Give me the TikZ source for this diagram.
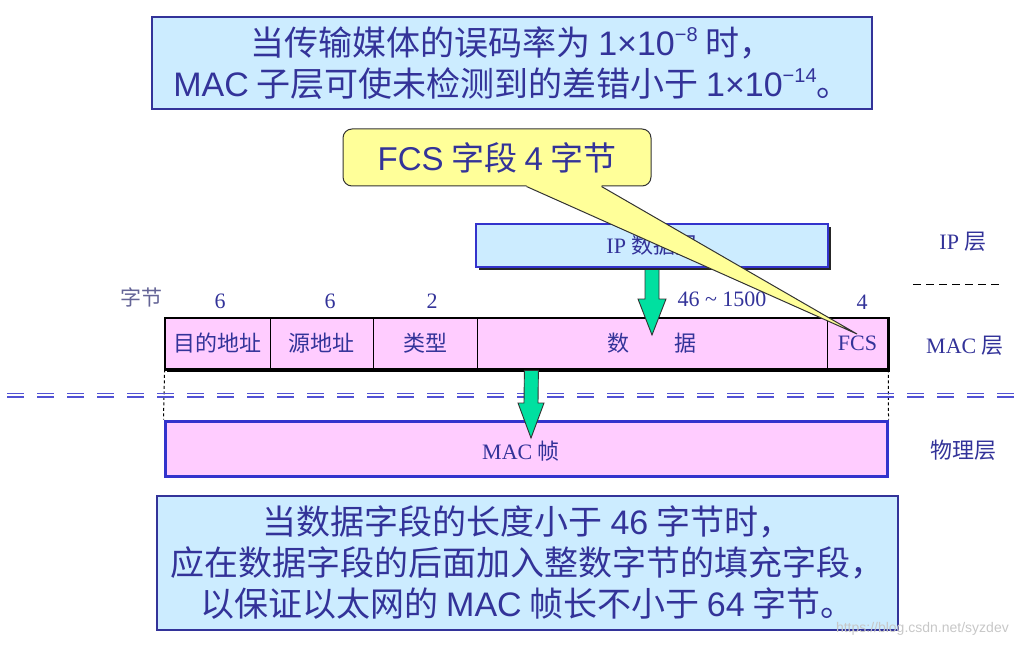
\documentclass[tikz,border=0pt]{standalone}
\usepackage{fontspec}
\setmainfont{Liberation Serif}
\newfontfamily\cjk{Noto Sans CJK SC}
\newfontfamily\sansf{Liberation Sans}
\usetikzlibrary{calc,shadows}
\definecolor{txtblue}{RGB}{51,51,153}
\definecolor{boxblue}{RGB}{204,236,255}
\definecolor{edgeblue}{RGB}{51,51,204}
\definecolor{pinkfill}{RGB}{255,204,255}
\definecolor{callyellow}{RGB}{255,255,153}
\definecolor{arrowgreen}{RGB}{0,224,160}
\definecolor{labgray}{RGB}{100,100,150}
\newcommand\supx[1]{\raisebox{0.42em}{\fontsize{20}{20}\selectfont #1}}
\begin{document}
\begin{tikzpicture}[x=1pt,y=-1pt,
  note/.style={draw=txtblue, line width=1.2pt, fill=boxblue, inner sep=0pt, align=center,
    text=txtblue, font=\cjk\fontsize{34}{41}\selectfont},
  callbox/.style={draw=black!80, line width=1pt, fill=callyellow, inner sep=0pt,
    rounded corners=9pt, text=txtblue, font=\cjk\fontsize{33}{33}\selectfont},
  ipbox/.style={draw=edgeblue, line width=2pt, fill=boxblue, inner sep=0pt,
    text=txtblue, font=\fontsize{22}{22}\selectfont},
  cell/.style={draw=black, line width=0.8pt, fill=pinkfill, inner sep=0pt,
    minimum height=51pt, text=txtblue, font=\fontsize{22}{22}\selectfont},
  physbox/.style={draw=edgeblue, line width=3pt, fill=pinkfill, inner sep=0pt},
  lab/.style={inner sep=0pt, text=txtblue, font=\fontsize{22}{22}\selectfont},
  garrow/.style={fill=arrowgreen, draw=black!80, line width=0.9pt, line join=miter},
  vdash/.style={draw=black, line width=1pt, dash pattern=on 3pt off 2.5pt},
  layerline/.style={draw=edgeblue!85, line width=1.3pt, dash pattern=on 17pt off 13pt},
]
\useasboundingbox (0,0) rectangle (1015,647);

% MAC frame
\node[cell, minimum width=105pt] (c1) at (217.5,343.5) {\cjk 目的地址};
\node[cell, minimum width=103pt] (c2) at (321.5,343.5) {\cjk 源地址};
\node[cell, minimum width=104pt] (c3) at (425,343.5) {\cjk 类型};
\node[cell, minimum width=350pt] (c4) at (652,343.5) {\cjk 数\hspace{46pt}据};
\node[cell, minimum width=61pt] (c5) at (857.5,343.5) {FCS};
\fill[black] ($(c1.south west)+(2,0)$) rectangle ($(c5.south east)+(2,2.5)$);
\fill[black] ($(c5.north east)+(0,2)$) rectangle ($(c5.south east)+(2,2.5)$);
\draw[line width=2.2pt] (c1.north west) rectangle (c5.south east);

% physical frame
\node[physbox, minimum width=722pt, minimum height=55pt] (phy) at (526,448.5) {};
\node[lab] (phytext) at (521,451) {MAC {\cjk 帧}};
\draw[vdash] (c1.south west) -- (phy.north west);
\draw[vdash] (c5.south east) -- (phy.north east);

% layer separator (double dashed)
\coordinate (sepL) at (7,393.5);
\coordinate (sepR) at (1015,393.5);
\draw[layerline] (sepL) -- (sepR);
\draw[layerline] ($(sepL)+(0,3.6)$) -- ($(sepR)+(0,3.6)$);

% arrow frame -> physical
\coordinate (a2s) at ($(c3.south east)+(54,1)$);
\coordinate (a2t) at (531,438);
\draw[garrow] ($(a2s)+(-7,0)$) -- ($(a2t)+(-7,-35)$) -- ($(a2t)+(-13,-35)$) -- (a2t)
  -- ($(a2t)+(13,-35)$) -- ($(a2t)+(7,-35)$) -- ($(a2s)+(7,0)$) -- cycle;

% IP datagram and arrow
\coordinate (a1t) at (652,335);
\coordinate (a1s) at (652,262);
\draw[garrow] ($(a1s)+(-7,0)$) -- ($(a1t)+(-7,-36)$) -- ($(a1t)+(-14,-36)$) -- (a1t)
  -- ($(a1t)+(14,-36)$) -- ($(a1t)+(7,-36)$) -- ($(a1s)+(7,0)$) -- cycle;
\node[ipbox, minimum width=352pt, minimum height=43pt,
  drop shadow={shadow xshift=3pt, shadow yshift=-3pt, fill=black!85, opacity=1}] (ip) at (652,245.5) {IP {\cjk 数据报}};

% byte counts
\node[inner sep=0pt, text=labgray, font=\cjk\fontsize{21}{21}\selectfont] (bytes) at (141,297) {字节};
\node[lab] (n1) at (220,301) {6};
\node[lab] (n2) at (330,301) {6};
\node[lab] (n3) at (432,301) {2};
\node[lab] (n4) at (722,299) {46 \textasciitilde\ 1500};
\node[lab] (n5) at (862,302) {4};

% layer names
\node[lab] (lip) at (963,242) {IP {\cjk 层}};
\coordinate (ldL) at (913,284);
\coordinate (ldR) at (1003,284);
\draw[black, line width=1pt, dash pattern=on 8pt off 5pt] (ldL) -- (ldR);
\node[lab] (lmac) at (965,346) {MAC {\cjk 层}};
\node[lab] (lphy) at (963,450) {\cjk 物理层};

% text boxes
\node[note, minimum width=720pt, minimum height=92pt] (top) at (512,63)
  {当传输媒体的误码率为 {\sansf 1×10\supx{−8}} 时，\\
   {\sansf MAC} 子层可使未检测到的差错小于 {\sansf 1×10\supx{−14}}。};
\node[note, minimum width=741pt, minimum height=134pt] (bottom) at (527.5,563)
  {当数据字段的长度小于 {\sansf 46} 字节时，\\
   应在数据字段的后面加入整数字节的填充字段，\\
   以保证以太网的 {\sansf MAC} 帧长不小于 {\sansf 64} 字节。};

% callout
\node[callbox, minimum width=308pt, minimum height=57pt] (fcsnote) at (497,157.5)
  {{\sansf FCS} 字段 {\sansf 4} 字节};
\coordinate (tip) at (857,334);
\coordinate (pb1) at ($(fcsnote.south west)+(184,0)$);
\coordinate (pb2) at ($(fcsnote.south west)+(259,0)$);
\fill[callyellow] ($(pb1)+(0,-2)$) -- (pb1) -- (tip) -- (pb2) -- ($(pb2)+(0,-2)$) -- cycle;
\draw[black!80, line width=1pt, line join=miter] (pb1) -- (tip) -- (pb2);

% watermark
\node[inner sep=0pt, anchor=east, text=black!22, font=\sansf\fontsize{14}{14}\selectfont] (wm) at (1009,629) {https://blog.csdn.net/syzdev};
\end{tikzpicture}
\end{document}
